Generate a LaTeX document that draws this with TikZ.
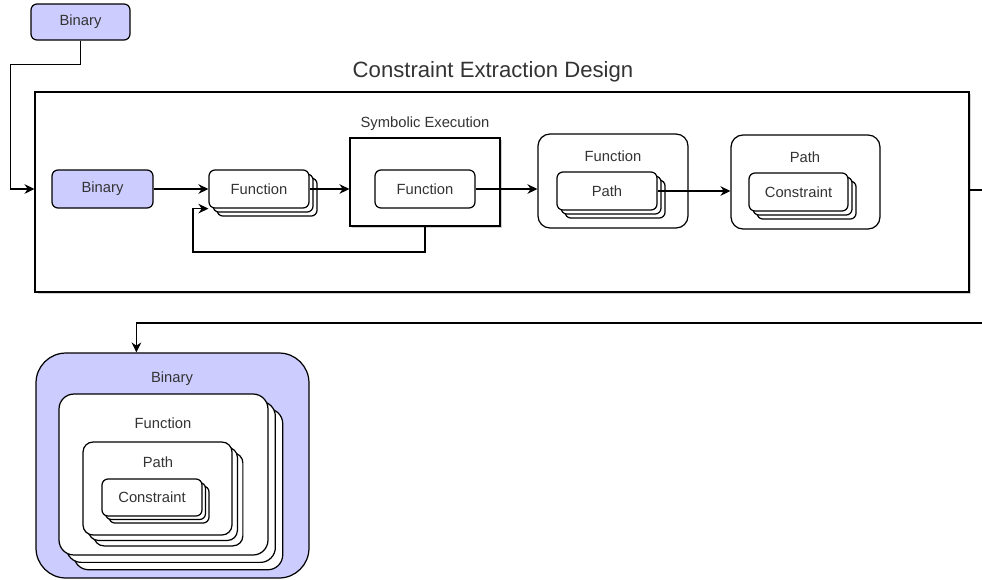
\documentclass[tikz,border=0pt]{standalone}
\usepackage{fontspec}
\setmainfont{Liberation Sans}
\usetikzlibrary{shadows, calc, positioning, arrows.meta}
\definecolor{lavender}{rgb}{0.8, 0.8, 1.0}
\definecolor{inkgray}{rgb}{0.2, 0.2, 0.2}

\begin{document}
\begin{tikzpicture}[x=0.02cm, y=-0.02cm, >={Stealth[length=5.7pt,width=5.5pt]}, line width=0.7pt, font=\fontsize{8.4}{10}\selectfont]
            \tikzstyle{box}=[draw, fill=white, rounded corners=3.4pt, minimum width=2cm, minimum height=0.76cm, inner sep=0pt, text=inkgray]
            \tikzstyle{stack}=[general shadow={shadow xshift=2*#1, shadow yshift=-2*#1, draw, fill=white}, general shadow={shadow xshift=#1, shadow yshift=-#1, draw, fill=white}]
            \tikzstyle{frame}=[draw, fill=white, inner sep=0pt, drop shadow={shadow xshift=1.4pt, shadow yshift=-1.4pt, fill=black!30, opacity=0.6}]
            \tikzstyle{group}=[draw, fill=white, rounded corners=6.8pt, inner sep=0pt, minimum width=3cm, minimum height=1.88cm]
            \tikzstyle{lbl}=[text=inkgray, inner sep=0pt]

            \useasboundingbox (0,0) rectangle (982,579);

            % Input binary
            \node[box, fill=lavender, minimum width=1.98cm, minimum height=0.72cm] (binTop) at (80.5,22) {Binary};

            % Design frame
            \node[lbl, font=\fontsize{12.6}{14}\selectfont] (title) at (493,72) {Constraint Extraction Design};
            \node[frame, minimum width=18.68cm, minimum height=4cm] (main) at (502,192) {};

            \node[box, fill=lavender, minimum width=2.02cm] (binIn) at (102.5,189) {Binary};
            \node[box, stack=2.3pt] (funA) at (259,189) {Function};

            % Symbolic execution
            \node[frame, minimum width=3cm, minimum height=1.76cm] (symEx) at (425,182) {};
            \node[lbl] (symLbl) at (425,124) {Symbolic Execution};
            \node[box] (funB) at (425,189) {Function};

            % Function -> paths
            \node[group] (funC) at (613,181) {};
            \node[lbl] (funCLbl) at (613,156) {Function};
            \node[box, stack=2.3pt] (pathA) at (607,191) {Path};

            % Path -> constraints
            \node[group, minimum width=2.98cm] (pathC) at (805.5,182) {};
            \node[lbl] (pathCLbl) at (805,157) {Path};
            \node[box, stack=2.3pt, minimum width=1.98cm] (conA) at (798.5,192) {Constraint};

            % Nested result
            \node[box, fill=lavender, rounded corners=17pt, minimum width=5.46cm, minimum height=4.5cm] (binBig) at (172.5,465.5) {};
            \node[lbl] (binBigLbl) at (172,379) {Binary};
            \node[box, stack=4.2pt, rounded corners=8.5pt, minimum width=4.18cm, minimum height=3.22cm] (funD) at (163.5,474.5) {};
            \node[lbl] (funDLbl) at (163,423) {Function};
            \node[box, stack=3.1pt, rounded corners=5.7pt, minimum width=2.98cm, minimum height=1.86cm] (pathD) at (157.5,488.5) {};
            \node[lbl] (pathDLbl) at (158,462) {Path};
            \node[box, stack=2pt, minimum height=0.74cm] (conD) at (152,497.5) {Constraint};

            % Connectors
            \coordinate (loopBot) at (193,252);
            \coordinate (exitR) at (982,190);
            \coordinate (backR) at (982,323);
            \draw[->] (binTop.south) |- ++(-70,24) |- (main.west |- binIn.west);
            \draw[->] (binIn.east) -- (funA.west);
            \draw[->] (funA.east) -- (symEx.west |- funA.east);
            \draw[->] (symEx.south) |- (loopBot) |- (funA.south west);
            \draw[->] (funB.east) -- (funC.west |- funB.east);
            \draw[->] (pathA.east) -- (pathC.west |- pathA.east);
            \draw (main.east |- exitR) -- (exitR);
            \draw[->] (backR) -| ($(binBig.north west)+(101,0)$);
        \end{tikzpicture}
\end{document}
